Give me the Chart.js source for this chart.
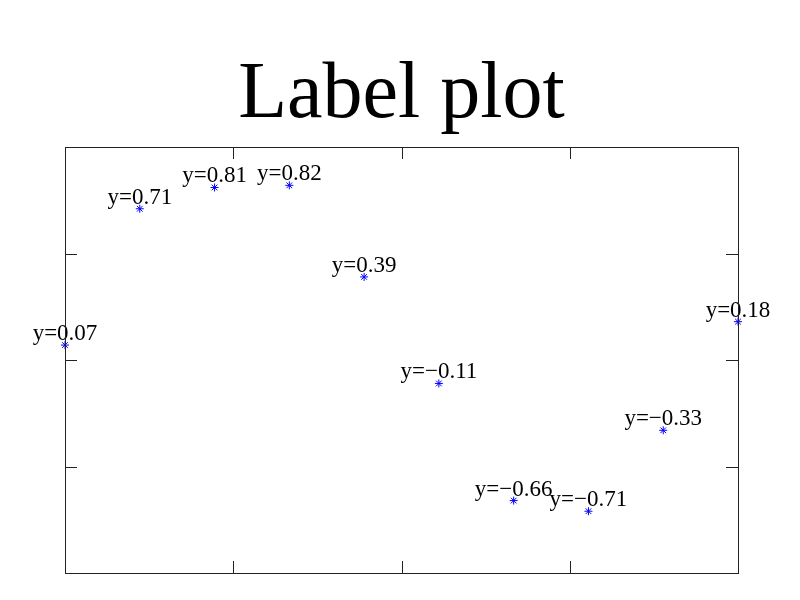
<!DOCTYPE html>
<html>
<head>
<meta charset="utf-8">
<title>Label plot</title>
<script src="https://cdn.jsdelivr.net/npm/chart.js@4/dist/chart.umd.min.js"></script>
<style>
  body { margin: 0; background: #fff; }
  canvas { display: block; }
</style>
</head>
<body>
<canvas id="chart" width="800" height="600"></canvas>
<script>
// data
const xValues = [0, 1, 2, 3, 4, 5, 6, 7, 8, 9];
const yValues = [0.07, 0.71, 0.81, 0.82, 0.39, -0.11, -0.66, -0.71, -0.33, 0.18];
const xTicks = [0, 2.25, 4.5, 6.75, 9];
const yTicks = [-1, -0.5, 0, 0.5, 1];

const serif = '"Liberation Serif", "Times New Roman", serif';

// box frame with inward ticks on all four sides
const framePlugin = {
  id: 'frame',
  afterDraw(chart) {
    const { ctx, chartArea: a, scales } = chart;
    const len = 12;
    ctx.save();
    ctx.strokeStyle = '#222';
    ctx.lineWidth = 1;
    ctx.strokeRect(a.left + 0.5, a.top + 0.5, a.right - a.left, a.bottom - a.top);
    ctx.beginPath();
    xTicks.forEach(v => {
      const px = Math.round(scales.x.getPixelForValue(v)) + 0.5;
      ctx.moveTo(px, a.bottom); ctx.lineTo(px, a.bottom - len);
      ctx.moveTo(px, a.top); ctx.lineTo(px, a.top + len);
    });
    yTicks.forEach(v => {
      const py = Math.round(scales.y.getPixelForValue(v)) + 0.5;
      ctx.moveTo(a.left, py); ctx.lineTo(a.left + len, py);
      ctx.moveTo(a.right, py); ctx.lineTo(a.right - len, py);
    });
    ctx.stroke();
    ctx.restore();
  }
};

// "y=..." labels above each point
const labelPlugin = {
  id: 'pointLabels',
  afterDatasetsDraw(chart) {
    const { ctx } = chart;
    const meta = chart.getDatasetMeta(0);
    ctx.save();
    ctx.font = '23px ' + serif;
    ctx.fillStyle = '#000';
    ctx.textAlign = 'center';
    ctx.textBaseline = 'alphabetic';
    meta.data.forEach((pt, i) => {
      const txt = 'y=' + yValues[i].toFixed(2).replace('-', '\u2212');
      ctx.fillText(txt, pt.x, pt.y - 5);
    });
    ctx.restore();
  }
};

new Chart(document.getElementById('chart'), {
  type: 'scatter',
  data: {
    datasets: [{
      data: xValues.map((x, i) => ({ x, y: yValues[i] })),
      pointStyle: 'star',
      pointRadius: 4,
      pointBorderColor: '#0000ff',
      pointBorderWidth: 1,
      clip: false
    }]
  },
  options: {
    responsive: false,
    animation: false,
    layout: { padding: { left: 65, right: 62, bottom: 27, top: 0 } },
    scales: {
      x: { type: 'linear', min: 0, max: 9, display: false },
      y: { type: 'linear', min: -1, max: 1, display: false }
    },
    plugins: {
      legend: { display: false },
      tooltip: { enabled: false },
      title: {
        display: true,
        text: 'Label plot',
        color: '#000',
        font: { family: serif, size: 80, weight: 'normal', lineHeight: 1.2 },
        padding: { top: 48, bottom: 3 }
      }
    }
  },
  plugins: [framePlugin, labelPlugin]
});
</script>
</body>
</html>
